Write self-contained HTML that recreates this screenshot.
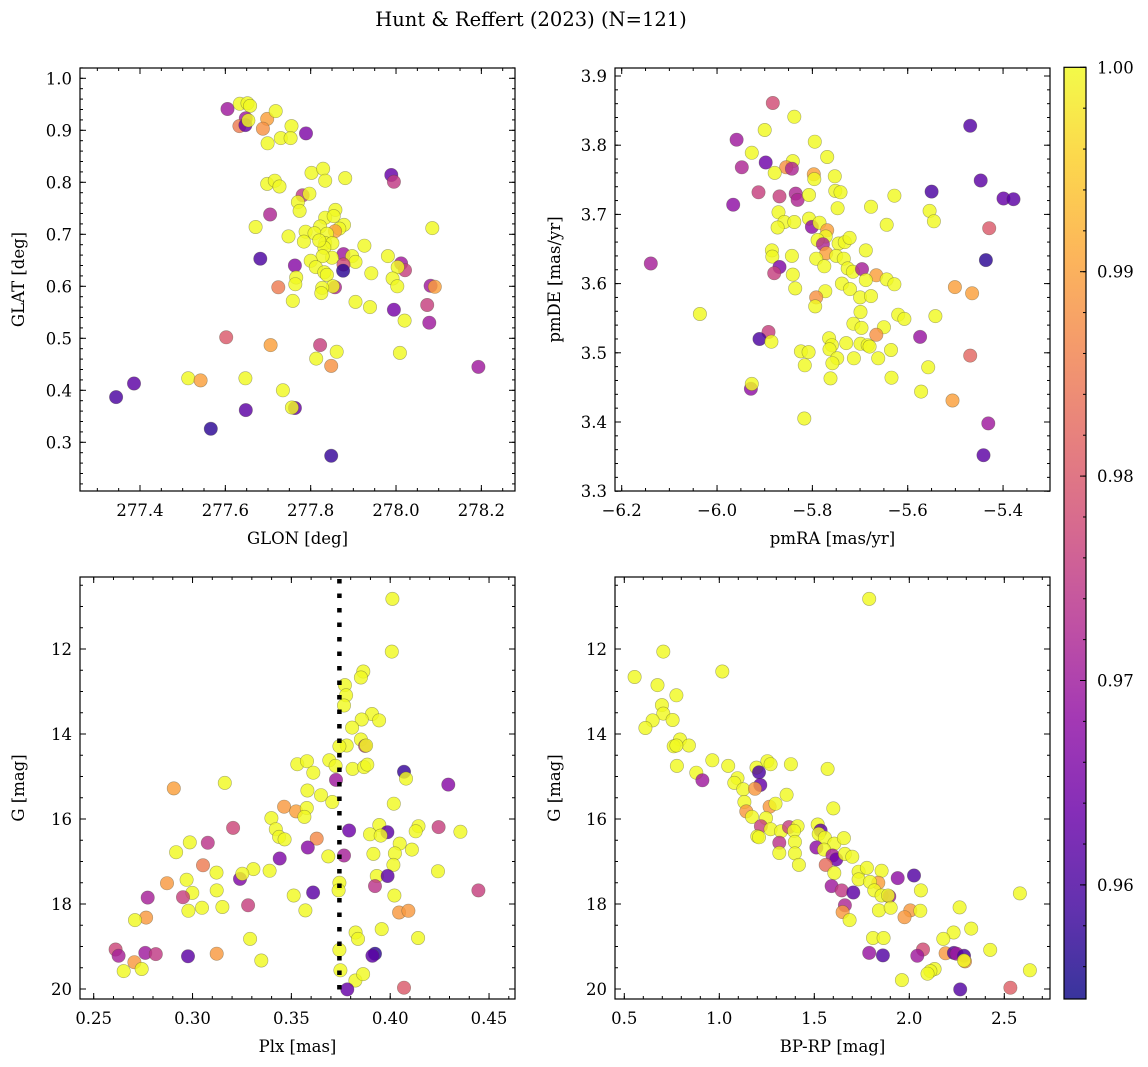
<!DOCTYPE html>
<html><head><meta charset="utf-8">
<style>
html,body{margin:0;padding:0;background:#fff;}
svg{display:block;font-family:"DejaVu Serif","Liberation Serif",serif;}
</style></head>
<body>
<svg id="fig" width="1148" height="1067" viewBox="0 0 1148 1067" xmlns="http://www.w3.org/2000/svg">
<defs>
<linearGradient id="plasma" x1="0" y1="1" x2="0" y2="0">
<stop offset="0" stop-color="#0d0887"/><stop offset="0.1" stop-color="#41049d"/><stop offset="0.2" stop-color="#6a00a8"/>
<stop offset="0.3" stop-color="#8f0da4"/><stop offset="0.4" stop-color="#b12a90"/><stop offset="0.5" stop-color="#cc4778"/>
<stop offset="0.6" stop-color="#e16462"/><stop offset="0.7" stop-color="#f2844b"/><stop offset="0.8" stop-color="#fca636"/>
<stop offset="0.9" stop-color="#fcce25"/><stop offset="1" stop-color="#f0f921"/>
</linearGradient>
</defs>
<text x="531" y="26" font-size="19.5" text-anchor="middle">Hunt &amp; Reffert (2023) (N=121)</text>
<g id="plots"></g>
</svg>
<script>
// ---- data: top-left (GLON vs GLAT) ----
const tlGlon=[277.605,277.634,277.652,277.658,277.648,277.633,277.647,277.654,277.698,277.688,277.718,277.755,277.699,277.730,277.753,277.789,277.802,277.829,277.834,277.881,277.698,277.716,277.727,277.989,277.995,277.781,277.797,277.770,277.774,277.705,277.671,277.858,277.834,277.854,277.878,277.867,277.857,277.822,277.788,277.809,277.838,277.748,277.784,277.834,277.851,277.832,277.820,277.926,277.682,277.877,277.897,277.850,277.828,277.981,277.905,277.800,277.763,277.877,277.876,277.812,278.012,278.021,278.004,277.832,277.838,277.766,277.764,277.942,277.992,278.003,278.081,278.091,277.724,277.857,277.852,277.827,277.825,277.758,277.905,277.939,277.995,278.073,278.020,278.078,278.085,277.602,277.706,277.822,277.861,277.813,277.848,278.009,278.193,277.513,277.542,277.647,277.386,277.344,277.735,277.763,277.756,277.648,277.566,277.848];
const tlGlat=[.941,.951,.952,.947,.923,.908,.910,.919,.922,.903,.937,.908,.875,.885,.885,.894,.818,.826,.803,.808,.797,.803,.792,.814,.801,.775,.778,.762,.745,.738,.714,.747,.732,.735,.718,.711,.706,.715,.705,.702,.701,.696,.686,.683,.683,.674,.688,.678,.653,.662,.658,.655,.658,.658,.647,.649,.640,.642,.630,.637,.644,.631,.637,.627,.622,.617,.604,.625,.615,.600,.601,.599,.598,.598,.600,.597,.587,.572,.570,.560,.555,.564,.534,.530,.712,.502,.487,.487,.474,.461,.447,.472,.445,.423,.419,.423,.413,.387,.400,.366,.367,.362,.326,.274];
const tlProb=[.970,1,1,1,.970,.985,.963,1,.990,.988,1,1,1,1,1,.966,1,1,1,1,1,1,1,.963,.975,.975,1,1,1,.972,1,1,1,1,1,1,.990,1,1,1,1,1,1,1,1,1,1,1,.960,.970,1,1,1,1,1,1,.967,.978,.957,1,.970,.976,1,1,1,1,1,1,1,1,.970,.990,.985,.972,1,1,1,1,1,1,.965,.976,1,.970,1,.980,.990,.976,1,1,.988,1,.970,1,.990,1,.962,.960,1,.963,1,.962,.957,.958];
// ---- data: top-right (pmRA vs pmDE) ----
const trPmra=[-5.883,-5.838,-5.900,-5.959,-5.795,-5.927,-5.898,-5.841,-5.855,-5.843,-5.948,-5.879,-5.797,-5.796,-5.769,-5.753,-5.913,-5.869,-5.835,-5.831,-5.807,-5.752,-5.741,-5.747,-5.966,-5.677,-5.628,-5.469,-5.447,-5.550,-5.399,-5.378,-5.554,-5.545,-5.429,-5.436,-5.871,-5.859,-5.838,-5.873,-5.807,-5.801,-5.785,-5.769,-5.772,-5.789,-5.778,-5.745,-5.732,-5.722,-5.688,-5.644,-5.885,-5.884,-5.843,-5.771,-5.750,-5.792,-5.734,-6.139,-5.869,-5.880,-5.775,-5.841,-5.726,-5.715,-5.696,-5.666,-5.688,-5.644,-5.628,-5.836,-5.738,-5.721,-5.773,-5.792,-5.794,-5.700,-5.677,-5.501,-5.465,-6.036,-5.699,-5.620,-5.607,-5.542,-5.714,-5.697,-5.650,-5.666,-5.574,-5.892,-5.911,-5.886,-5.765,-5.759,-5.764,-5.729,-5.699,-5.684,-5.680,-5.635,-5.824,-5.808,-5.816,-5.748,-5.713,-5.662,-5.758,-5.762,-5.634,-5.557,-5.469,-5.929,-5.927,-5.572,-5.506,-5.817,-5.431,-5.441];
const trPmde=[3.861,3.841,3.822,3.808,3.805,3.789,3.775,3.777,3.768,3.766,3.768,3.760,3.758,3.751,3.783,3.755,3.732,3.726,3.730,3.721,3.728,3.734,3.732,3.709,3.714,3.711,3.727,3.828,3.749,3.733,3.723,3.722,3.705,3.690,3.680,3.634,3.703,3.689,3.689,3.681,3.694,3.682,3.688,3.677,3.668,3.663,3.657,3.658,3.660,3.666,3.648,3.685,3.648,3.639,3.640,3.644,3.640,3.636,3.636,3.629,3.624,3.615,3.625,3.613,3.622,3.617,3.621,3.612,3.605,3.606,3.599,3.593,3.600,3.592,3.589,3.580,3.567,3.580,3.582,3.595,3.586,3.556,3.559,3.555,3.549,3.553,3.542,3.536,3.537,3.526,3.523,3.530,3.520,3.516,3.521,3.511,3.505,3.514,3.513,3.511,3.509,3.504,3.502,3.501,3.482,3.492,3.492,3.492,3.485,3.463,3.464,3.479,3.496,3.448,3.455,3.444,3.431,3.405,3.398,3.352];
const trProb=[.978,1,1,.970,1,1,.964,1,.988,.972,.972,1,.990,1,1,1,.976,.976,.972,.972,1,1,1,1,.968,1,1,.961,.962,.960,.963,.962,1,1,.980,.957,1,1,1,1,1,.968,1,.990,1,1,.972,1,1,1,1,1,1,1,1,.990,1,1,1,.971,.966,.976,1,1,1,1,.971,.990,1,1,1,1,1,1,1,.988,1,1,1,.990,.990,1,1,1,1,1,1,1,1,.988,.969,.976,.960,1,1,1,1,1,1,1,1,1,1,1,1,1,1,1,1,1,1,1,.982,.968,1,1,.990,1,.970,.962];
// ---- data: bottom-left (Plx vs G) ----
const blPlx=[.4011,.4008,.3864,.3852,.3771,.3777,.3766,.3908,.3856,.3944,.3807,.3852,.3873,.3878,.378,.3743,.353,.3579,.3611,.3692,.3724,.381,.3868,.3884,.3726,.407,.408,.4294,.3163,.2905,.3581,.365,.3707,.4018,.3463,.3524,.3578,.3566,.3399,.3421,.3438,.3466,.3628,.3792,.3583,.3687,.3766,.3945,.3986,.3898,.3952,.4143,.4129,.4245,.4355,.3205,.3077,.2986,.2917,.4048,.4024,.411,.3915,.4016,.4242,.3932,.3987,.3923,.3441,.3308,.339,.3053,.3121,.324,.3252,.297,.2871,.2999,.2952,.3122,.2773,.3512,.361,.3743,.3739,.4021,.4446,.2979,.3048,.3151,.3281,.3571,.4045,.4092,.2765,.2709,.3825,.3837,.3957,.4141,.3291,.2611,.2626,.2761,.2814,.2977,.3122,.3348,.2706,.2652,.2743,.3743,.3923,.3910,.3748,.3824,.3863,.3783,.4070];
const blG=[10.82,12.06,12.53,12.67,12.85,13.09,13.33,13.53,13.66,13.68,13.85,14.13,14.28,14.27,14.27,14.29,14.71,14.64,14.91,14.62,14.75,14.82,14.78,14.72,15.08,14.89,15.05,15.19,15.15,15.28,15.33,15.44,15.60,15.64,15.71,15.82,15.74,15.95,15.98,16.24,16.42,16.48,16.46,16.27,16.67,16.88,16.86,16.14,16.31,16.36,16.39,16.17,16.29,16.19,16.30,16.21,16.56,16.55,16.78,16.58,16.81,16.72,16.82,17.08,17.23,17.34,17.34,17.58,16.93,17.18,17.22,17.09,17.26,17.41,17.29,17.43,17.51,17.74,17.84,17.68,17.85,17.80,17.73,17.50,17.68,17.80,17.68,18.16,18.09,18.07,18.03,18.15,18.20,18.16,18.32,18.38,18.67,18.82,18.59,18.80,18.82,19.07,19.22,19.15,19.18,19.23,19.17,19.33,19.37,19.58,19.53,19.08,19.17,19.22,19.56,19.80,19.65,20.01,19.97];
const blProb=[1,1,1,1,1,1,1,1,1,1,1,1,.976,1,1,1,1,1,1,1,1,1,1,1,.970,.958,1,.967,1,.990,1,1,1,1,.989,.990,1,1,1,1,1,1,.987,.964,.967,1,.971,1,.962,1,1,1,1,.976,1,.977,.974,1,1,1,1,1,1,1,1,1,.962,.974,.966,1,1,.985,1,.966,1,1,.989,1,.976,1,.971,1,.962,1,1,1,.976,1,1,1,.976,1,.989,.989,.989,1,1,1,1,1,1,.977,.971,.970,.975,.962,.989,1,.989,1,1,1,.957,.962,1,1,1,.963,.980];
const plxCut=0.3743;
// ---- data: bottom-right (BP-RP vs G) ----
const brBprp=[1.789,.705,1.016,.554,.675,.774,.698,.705,.754,.649,.611,.793,.840,.760,.774,.963,1.047,.777,.879,.911,1.196,1.209,1.253,1.270,1.377,1.570,1.096,1.079,1.126,1.216,1.188,1.354,1.132,1.142,1.265,1.296,1.600,1.172,1.246,1.219,1.270,1.325,1.367,1.412,1.393,1.200,1.209,1.316,1.398,1.316,1.398,1.419,1.518,1.533,1.523,1.556,1.605,1.656,1.511,1.551,1.596,1.616,1.661,1.700,1.560,1.605,1.733,1.777,1.733,1.854,1.837,1.793,1.816,1.939,2.025,1.591,1.644,1.705,1.854,1.895,1.888,2.061,1.661,1.649,1.686,1.840,1.902,2.005,1.975,2.058,2.265,2.582,1.809,1.865,2.233,2.179,2.326,2.426,1.789,1.861,2.072,2.042,2.191,2.235,2.249,2.288,2.293,2.288,2.133,2.111,2.096,1.961,2.268,2.532,2.635];
const brG=[10.82,12.06,12.53,12.66,12.85,13.09,13.32,13.52,13.67,13.68,13.86,14.13,14.27,14.29,14.27,14.62,14.75,14.75,14.91,15.09,14.79,14.90,14.64,14.71,14.71,14.82,15.04,15.15,15.30,15.20,15.29,15.43,15.60,15.82,15.71,15.64,15.75,15.95,15.98,16.17,16.24,16.29,16.19,16.17,16.28,16.41,16.43,16.56,16.54,16.80,16.81,17.08,16.13,16.27,16.35,16.44,16.58,16.45,16.67,16.72,16.86,16.95,16.82,16.89,17.08,17.27,17.24,17.15,17.42,17.22,17.50,17.48,17.68,17.39,17.33,17.58,17.68,17.73,17.80,17.82,17.80,17.68,18.03,18.19,18.38,18.15,18.09,18.15,18.31,18.16,18.08,17.75,18.80,18.80,18.67,18.82,18.58,19.08,19.15,19.21,19.07,19.22,19.16,19.15,19.17,19.22,19.35,19.33,19.53,19.58,19.64,19.79,20.01,19.97,19.56];
const brProb=[1,1,1,1,1,1,1,1,1,1,1,1,1,1,1,1,1,1,1,.970,1,.960,1,1,1,1,1,1,1,.963,.989,1,1,.989,.989,1,1,1,1,.976,1,1,.976,1,1,1,1,.974,1,1,1,1,1,.962,1,1,1,1,.968,1,.971,.964,1,1,.983,1,1,1,1,1,.990,1,1,.968,.961,.970,.975,.962,1,.970,1,1,.972,.989,1,1,1,.989,.989,1,1,1,1,1,1,1,1,1,.969,.961,.978,.970,.989,.961,.970,.960,.989,1,1,1,1,1,.961,.981,1];
// colorbar
const cbTicks=[1.00,0.99,0.98,0.97,0.96];
const cbLabels=["1.00","0.99","0.98","0.97","0.96"];

const VMIN=0.9544, VMAX=1.0;
const NS="http://www.w3.org/2000/svg";
const root=document.getElementById('plots');
const stops=[[13,8,135],[65,4,157],[106,0,168],[143,13,164],[177,42,144],[204,71,120],[225,100,98],[242,132,75],[252,166,54],[252,206,37],[240,249,33]];
function plasma(v){let t=(v-VMIN)/(VMAX-VMIN);t=Math.max(0,Math.min(1,t))*10;const i=Math.min(9,Math.floor(t)),f=t-i;const a=stops[i],b=stops[i+1];return 'rgb('+a.map((c,k)=>Math.round(c+(b[k]-c)*f)).join(',')+')';}
function el(tag,attrs,parent){const e=document.createElementNS(NS,tag);for(const k in attrs)e.setAttribute(k,attrs[k]);(parent||root).appendChild(e);return e;}
function fmt(v,d){let s=v.toFixed(d);return s.replace('-','\u2212');}
const TFS=16.5;

function panel(cfg){
  const g=el('g',{});
  
  
  const {L,R,T,B}=cfg;
  const sx=v=>cfg.x0px+(v-cfg.x0)*cfg.xs;
  const sy=v=>cfg.y0px+(v-cfg.y0)*cfg.ys;
  const pg=el('g',{},g);
  
  
  for(let i=0;i<cfg.xs_.length;i++){
    const c=el('circle',{cx:sx(cfg.xs_[i]).toFixed(1),cy:sy(cfg.ys_[i]).toFixed(1),r:6.7,fill:plasma(cfg.pr[i]),'fill-opacity':0.82,stroke:'#4a4a30','stroke-opacity':0.45,'stroke-width':0.6},pg);
    
    
  }
  if(cfg.extra)cfg.extra(g,sx,sy);
  const fr=el('rect',{x:L,y:T,width:R-L,height:B-T,fill:'none',stroke:'#000','stroke-width':1.2},g);
  
  
  const tg=el('g',{stroke:'#000','stroke-width':1},g);
  const eps=1e-6;
  function xt(lo,hi,step,len,labels){
    for(let v=Math.ceil(lo/step-eps)*step;v<=hi+eps;v+=step){const x=sx(v);if(x<L-0.5||x>R+0.5)continue;
      el('line',{x1:x,y1:B,x2:x,y2:B-len},tg);el('line',{x1:x,y1:T,x2:x,y2:T+len},tg);
      if(labels){const t=el('text',{x:x,y:B+25,'font-size':TFS,'text-anchor':'middle',stroke:'none',fill:'#000'},g);t.textContent=fmt(v,cfg.xd);}}
  }
  function yt(lo,hi,step,len,labels){
    for(let v=Math.ceil(lo/step-eps)*step;v<=hi+eps;v+=step){const y=sy(v);if(y<T-0.5||y>B+0.5)continue;
      el('line',{x1:L,y1:y,x2:L+len,y2:y},tg);el('line',{x1:R,y1:y,x2:R-len,y2:y},tg);
      if(labels){const t=el('text',{x:L-8,y:y+6,'font-size':TFS,'text-anchor':'end',stroke:'none',fill:'#000'},g);t.textContent=fmt(v,cfg.yd);}}
  }
  const xl=Math.min(cfg.xlo,cfg.xhi),xh=Math.max(cfg.xlo,cfg.xhi),yl=Math.min(cfg.ylo,cfg.yhi),yh=Math.max(cfg.ylo,cfg.yhi);
  xt(xl,xh,cfg.xmin,3,false);xt(xl,xh,cfg.xmaj,6,true);
  yt(yl,yh,cfg.ymin,3,false);yt(yl,yh,cfg.ymaj,6,true);
  const xl_=el('text',{x:(L+R)/2,y:B+53,'font-size':16.5,'text-anchor':'middle'},g);xl_.textContent=cfg.xlabel;
  
  const yx=cfg.ylabx, yy=(T+B)/2;
  const yl_=el('text',{x:yx,y:yy,'font-size':16.5,'text-anchor':'middle',transform:'rotate(-90 '+yx+' '+yy+')'},g);yl_.textContent=cfg.ylabel;
  
}

panel({name:'glon-glat-panel',L:80,R:515,T:68,B:491,x0:277.4,x0px:140,xs:426.7,y0:1.0,y0px:78.3,ys:-520,
 xlo:277.26,xhi:278.28,ylo:0.205,yhi:1.02,xmaj:0.2,xmin:0.05,ymaj:0.1,ymin:0.02,xd:1,yd:1,
 xs_:tlGlon,ys_:tlGlat,pr:tlProb,xlabel:'GLON [deg]',ylabel:'GLAT [deg]',ylabx:24});
panel({name:'pm-panel',L:615,R:1050,T:68,B:491,x0:-6.2,x0px:621.7,xs:476.7,y0:3.9,y0px:76,ys:-692,
 xlo:-6.22,xhi:-5.29,ylo:3.30,yhi:3.915,xmaj:0.2,xmin:0.05,ymaj:0.1,ymin:0.02,xd:1,yd:1,
 xs_:trPmra,ys_:trPmde,pr:trProb,xlabel:'pmRA [mas/yr]',ylabel:'pmDE [mas/yr]',ylabx:560});
panel({name:'plx-g-panel',L:80,R:515,T:577,B:999,x0:0.25,x0px:93.7,xs:1976.7,y0:12,y0px:649,ys:42.5,
 xlo:0.243,xhi:0.464,ylo:10.3,yhi:20.3,xmaj:0.05,xmin:0.01,ymaj:2,ymin:0.5,xd:2,yd:0,
 xs_:blPlx,ys_:blG,pr:blProb,xlabel:'Plx [mas]',ylabel:'G [mag]',ylabx:24,
 extra:(g,sx,sy)=>{const x=sx(plxCut);const ln=el('line',{x1:x,y1:579,x2:x,y2:999,stroke:'#000','stroke-width':4.5,'stroke-dasharray':'4.5 10'},g);
   }});
panel({name:'cmd-panel',L:615,R:1050,T:577,B:999,x0:0.5,x0px:624.3,xs:190,y0:12,y0px:649,ys:42.5,
 xlo:0.44,xhi:2.75,ylo:10.3,yhi:20.3,xmaj:0.5,xmin:0.1,ymaj:2,ymin:0.5,xd:1,yd:0,
 xs_:brBprp,ys_:brG,pr:brProb,xlabel:'BP-RP [mag]',ylabel:'G [mag]',ylabx:560});

(function(){
  const g=el('g',{});
  
  
  const T=67.3,B=999,L=1064,R=1086;
  const cy=v=>T+(VMAX-v)*20440;
  el('rect',{x:L,y:T,width:R-L,height:B-T,fill:'url(#plasma)','fill-opacity':0.82},g);
  el('rect',{x:L,y:T,width:R-L,height:B-T,fill:'none',stroke:'#000','stroke-width':1.2},g);
  for(let v=1.0;v>=VMIN;v-=0.002){const y=cy(v);el('line',{x1:R,y1:y,x2:R-3,y2:y,stroke:'#000','stroke-width':1},g);}
  for(let i=0;i<cbTicks.length;i++){const y=cy(cbTicks[i]);
    el('line',{x1:R,y1:y,x2:R-6,y2:y,stroke:'#000','stroke-width':1},g);
    const t=el('text',{x:R+11,y:y+6,'font-size':TFS},g);t.textContent=cbLabels[i];
    }
})();
</script>
</body></html>
